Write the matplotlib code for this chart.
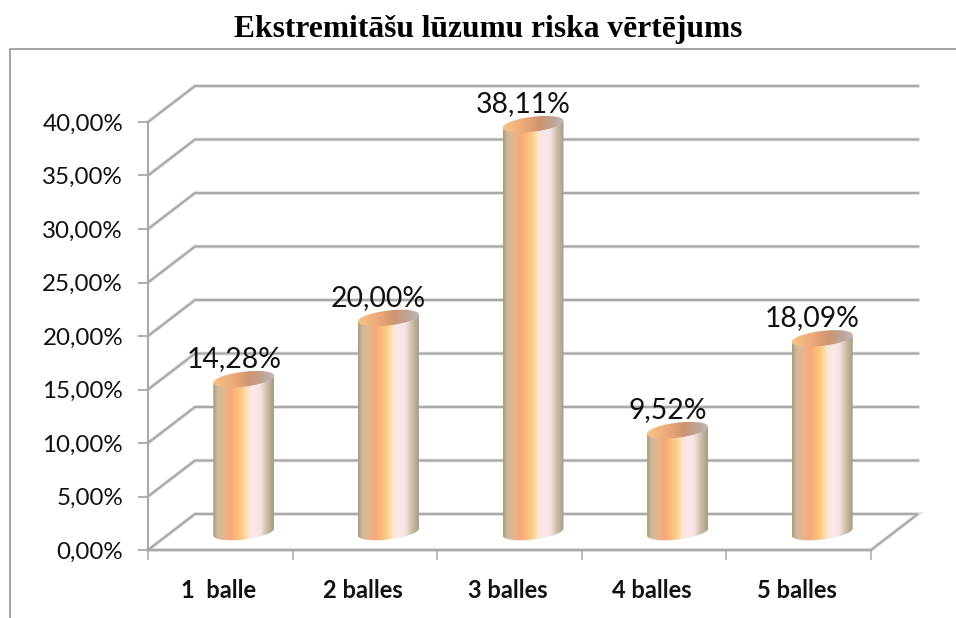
import numpy as np
import matplotlib
matplotlib.use("Agg")
import matplotlib.pyplot as plt
from matplotlib.colors import LinearSegmentedColormap
from matplotlib.lines import Line2D
from matplotlib.patches import Polygon

title = "Ekstremitāšu lūzumu riska vērtējums"
categories = ["1  balle", "2 balles", "3 balles", "4 balles", "5 balles"]
values = [14.28, 20.00, 38.11, 9.52, 18.09]
value_labels = ["14,28%", "20,00%", "38,11%", "9,52%", "18,09%"]
y_ticks = [0, 5, 10, 15, 20, 25, 30, 35, 40]
y_tick_labels = ["0,00%", "5,00%", "10,00%", "15,00%", "20,00%", "25,00%", "30,00%", "35,00%", "40,00%"]

W, H = 956, 618
GRID = "#a9a9a9"
fig = plt.figure(figsize=(W / 100, H / 100), dpi=100, facecolor="white")
L, R, T, B = 148, 871, 122, 550
ax = fig.add_axes([L / W, 1 - B / H, (R - L) / W, (B - T) / H])
ax.set_xlim(-0.5, 4.5)
ax.set_ylim(0, 40)
ppx = (R - L) / 5          # pixels per category
ppy = (B - T) / 40         # pixels per percent
dx, dy = 47 / ppx, 36 / ppy  # depth of the 3D box

# figure frame (open towards right and bottom)
fig.add_artist(Line2D([10 / W, 10 / W, 1], [0, 1 - 49 / H, 1 - 49 / H], color="#8c8c8c", lw=1.1))

# walls
for t in y_ticks:
    xs = [-0.5, -0.5 + dx, 4.5 + dx]
    ys = [t, t + dy, t + dy]
    if t == 0:
        xs = [-0.5, -0.5 + dx, 4.5 + dx, 4.5, -0.5]
        ys = [0, dy, dy, 0, 0]
    ax.plot(xs, ys, color="#dedede", lw=2.6, clip_on=False, zorder=1, solid_joinstyle="miter")
    ax.plot(xs, ys, color=GRID, lw=1.5, clip_on=False, zorder=1.1, solid_joinstyle="miter")

# cylinders
body_cmap = LinearSegmentedColormap.from_list("body", [
    (0.00, "#a89a80"), (0.07, "#cdbb9c"), (0.20, "#e8b48c"), (0.30, "#f7a878"),
    (0.47, "#ffcb80"), (0.58, "#fde6c8"), (0.66, "#fde8ee"), (0.78, "#f4e2e2"),
    (0.90, "#c9b9a2"), (1.00, "#a89a84")])
top_cmap = LinearSegmentedColormap.from_list("top", [
    (0.00, "#f6c488"), (0.35, "#eba878"), (0.60, "#cf9470"), (0.85, "#bda69a"), (1.00, "#c4b8b8")])

half_w = 30.5 / ppx
ell_h = 7.5 / ppy     # half height of the ellipse
tilt = 3.5 / ppy      # the ellipses rise to the right
base = dy / 2
centre_shift = dx / 2
th = np.linspace(0, 2 * np.pi, 121)

def ellipse(cx, cy, angle):
    return (cx + half_w * np.cos(angle),
            cy + ell_h * np.sin(angle) + tilt * np.cos(angle))

grad = np.linspace(0, 1, 256).reshape(1, -1)
for i, v in enumerate(values):
    cx = i + centre_shift
    top = base + v
    low = np.linspace(np.pi, 2 * np.pi, 61)
    ex, ey = ellipse(cx, base, low)
    px = [cx - half_w, *ex, cx + half_w]
    py = [top - tilt, *ey, top + tilt]
    clip = Polygon(np.column_stack([px, py]), closed=True, transform=ax.transData, fc="none", ec="none")
    ax.add_patch(clip)
    clip.set_clip_on(False)
    im = ax.imshow(grad, cmap=body_cmap, extent=[cx - half_w, cx + half_w, base - ell_h * 1.3, top + tilt],
                   aspect="auto", zorder=3, interpolation="bilinear")
    im.set_clip_path(clip)
    im.set_clip_box(fig.bbox)
    ex, ey = ellipse(cx, top, th)
    clip2 = Polygon(np.column_stack([ex, ey]), closed=True, transform=ax.transData, fc="none", ec="none")
    ax.add_patch(clip2)
    clip2.set_clip_on(False)
    im2 = ax.imshow(grad, cmap=top_cmap, extent=[cx - half_w, cx + half_w, top - ell_h * 1.4, top + ell_h * 1.4],
                    aspect="auto", zorder=4, interpolation="bilinear")
    im2.set_clip_path(clip2)
    im2.set_clip_box(fig.bbox)
    ax.text(cx - 10 / ppx, top + 20 / ppy, value_labels[i], ha="center", va="center", fontsize=20.4,
            family="Lato", color="#111111", zorder=5)

ax.set_xlim(-0.5, 4.5)
ax.set_ylim(0, 40)

# axes
for s in ("top", "right"):
    ax.spines[s].set_visible(False)
for s in ("left", "bottom"):
    ax.spines[s].set_color(GRID)
    ax.spines[s].set_linewidth(1.5)
ax.set_yticks(y_ticks)
ax.set_yticklabels(y_tick_labels, fontsize=17.4, family="Lato", color="#111111")
ax.tick_params(axis="y", length=7, width=1.3, color=GRID, pad=11)
ax.set_xticks(np.arange(5) - 2 / ppx)
ax.set_xticklabels(categories, fontsize=17, family="Lato", fontweight="bold", color="#111111")
ax.tick_params(axis="x", which="major", length=0, pad=21)
ax.set_xticks(np.arange(-0.5, 5, 1), minor=True)
ax.tick_params(axis="x", which="minor", length=7, width=1.1, color=GRID)
ax.patch.set_visible(False)

fig.text(488 / W, 1 - 30 / H, title, ha="center", va="center", fontsize=22.7,
         family="Liberation Serif", fontweight="bold", color="black")

fig.savefig("out.png", dpi=100, facecolor="white")
